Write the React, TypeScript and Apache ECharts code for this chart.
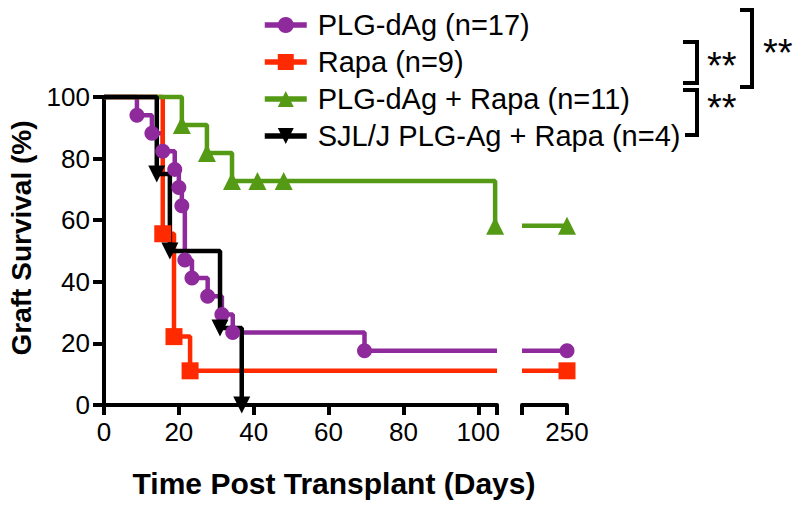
import React, { useEffect, useRef } from "react";
import * as echarts from "echarts";

const seriesNames = [
  "PLG-dAg (n=17)",
  "Rapa (n=9)",
  "PLG-dAg + Rapa (n=11)",
  "SJL/J PLG-Ag + Rapa (n=4)",
];

// Early segment (0–105 days). Mark = 1 where a symbol is drawn.
const purpleDays = [0, 8.8, 12.8, 15.7, 18.9, 20, 20.8, 21.6, 23.5, 27.7, 31.5, 34.4, 69.6, 105];
const purpleSurv = [100, 94.1, 88.2, 82.4, 76.5, 70.6, 64.7, 47.1, 41.2, 35.3, 29.4, 23.5, 17.6, 17.6];
const purpleMark = [0, 1, 1, 1, 1, 1, 1, 1, 1, 1, 1, 1, 1, 0];

const redDays = [0, 15.7, 18.7, 23, 105];
const redSurv = [100, 55.6, 22.2, 11.1, 11.1];
const redMark = [0, 1, 1, 1, 0];

const greenDays = [0, 20.8, 27.5, 34.2, 41, 48, 104.5];
const greenSurv = [100, 90.9, 81.8, 72.7, 72.7, 72.7, 58.2];
const greenMark = [0, 1, 1, 1, 1, 1, 1];

const blackDays = [0, 14.1, 17.6, 31, 36.8];
const blackSurv = [100, 75, 50, 25, 0];
const blackMark = [0, 1, 1, 1, 1];

// Late segment (broken axis, ends at 250 days)
const lateDays = [230, 250];
const purpleLate = [17.6, 17.6];
const redLate = [11.1, 11.1];
const greenLate = [58.2, 58.2];
const lateMark = [0, 1];

const earlyTicks = [0, 20, 40, 60, 80, 100, 105];
const earlyLabels = [0, 20, 40, 60, 80, 100];
const lateTicks = [230, 250];
const lateLabels = [250];

const FONT = "Arial, 'Liberation Sans', Helvetica, sans-serif";
const C_PURPLE = "#8E2A9C";
const C_RED = "#FF2A00";
const C_GREEN = "#559A14";
const C_BLACK = "#000000";

function mk(days: number[], surv: number[], mark: number[]) {
  return days.map((d, i) =>
    mark[i] ? { value: [d, surv[i]] } : { value: [d, surv[i]], symbol: "none" }
  );
}

function lineSeries(
  name: string,
  color: string,
  symbol: string,
  size: number,
  rotate: number,
  data: any[],
  axis: number
) {
  return {
    type: "line",
    name,
    step: "end",
    xAxisIndex: axis,
    yAxisIndex: axis,
    data,
    symbol,
    symbolSize: size,
    symbolRotate: rotate,
    showSymbol: true,
    showAllSymbol: true,
    clip: false,
    lineStyle: { color, width: 4.5 },
    itemStyle: { color, borderWidth: 0 },
    emphasis: { disabled: true },
  };
}

export default function App() {
  const ref = useRef<HTMLDivElement>(null);
  useEffect(() => {
    document.body.style.margin = "0";
    const chart = echarts.init(ref.current!, null, { renderer: "svg" });
    const axisLineStyle = { color: "#000", width: 4 };
    const starStyle = (y: number, x: number) => ({
      type: "text",
      x,
      y,
      style: { text: "**", fontSize: 38, fontFamily: FONT, fill: "#000", textVerticalAlign: "middle" },
    });
    const option: any = {
      animation: false,
      backgroundColor: "#fff",
      textStyle: { fontFamily: FONT },
      legend: {
        data: seriesNames,
        orient: "vertical",
        left: 257,
        top: 5,
        itemWidth: 42,
        itemHeight: 20,
        itemGap: 7,
        selectedMode: false,
        lineStyle: { width: 5.5 },
        textStyle: {
          fontFamily: FONT,
          fontSize: 29,
          color: "#000",
          lineHeight: 30,
          padding: [0, 0, 0, 6],
        },
      },
      grid: [
        { left: 104, top: 97, width: 393, height: 308 },
        { left: 522, top: 97, width: 45, height: 308 },
      ],
      xAxis: [
        {
          type: "value",
          gridIndex: 0,
          min: 0,
          max: 105,
          interval: 20,
          axisLine: { show: true, onZero: false, lineStyle: axisLineStyle },
          axisTick: {
            show: true,
            length: 10,
            lineStyle: axisLineStyle,
            customValues: earlyTicks,
          },
          axisLabel: {
            customValues: earlyLabels,
            fontSize: 26,
            color: "#000",
            margin: 14,
            fontFamily: FONT,
          },
          splitLine: { show: false },
        },
        {
          type: "value",
          gridIndex: 1,
          min: 230,
          max: 250,
          interval: 20,
          axisLine: { show: true, onZero: false, lineStyle: axisLineStyle },
          axisTick: {
            show: true,
            length: 10,
            lineStyle: axisLineStyle,
            customValues: lateTicks,
          },
          axisLabel: {
            customValues: lateLabels,
            fontSize: 26,
            color: "#000",
            margin: 14,
            fontFamily: FONT,
          },
          splitLine: { show: false },
        },
      ],
      yAxis: [
        {
          type: "value",
          gridIndex: 0,
          min: 0,
          max: 100,
          interval: 20,
          axisLine: { show: true, lineStyle: axisLineStyle },
          axisTick: { show: true, length: 11, lineStyle: axisLineStyle },
          axisLabel: { fontSize: 26, color: "#000", margin: 14, fontFamily: FONT },
          splitLine: { show: false },
        },
        {
          type: "value",
          gridIndex: 1,
          min: 0,
          max: 100,
          show: false,
          splitLine: { show: false },
        },
      ],
      series: [
        lineSeries(seriesNames[0], C_PURPLE, "circle", 15, 0, mk(purpleDays, purpleSurv, purpleMark), 0),
        lineSeries(seriesNames[1], C_RED, "rect", 17, 0, mk(redDays, redSurv, redMark), 0),
        lineSeries(seriesNames[2], C_GREEN, "triangle", 18, 0, mk(greenDays, greenSurv, greenMark), 0),
        lineSeries(seriesNames[3], C_BLACK, "triangle", 17, 180, mk(blackDays, blackSurv, blackMark), 0),
        lineSeries(seriesNames[0], C_PURPLE, "circle", 15, 0, mk(lateDays, purpleLate, lateMark), 1),
        lineSeries(seriesNames[1], C_RED, "rect", 17, 0, mk(lateDays, redLate, lateMark), 1),
        lineSeries(seriesNames[2], C_GREEN, "triangle", 18, 0, mk(lateDays, greenLate, lateMark), 1),
      ],
      graphic: [
        {
          type: "text",
          x: 334,
          y: 483,
          style: {
            text: "Time Post Transplant (Days)",
            fontSize: 30,
            fontWeight: "bold",
            fontFamily: FONT,
            fill: "#000",
            textAlign: "center",
            textVerticalAlign: "middle",
          },
        },
        {
          type: "text",
          x: 21,
          y: 238,
          rotation: Math.PI / 2,
          style: {
            text: "Graft Survival (%)",
            fontSize: 28,
            fontWeight: "bold",
            fontFamily: FONT,
            fill: "#000",
            textAlign: "center",
            textVerticalAlign: "middle",
          },
        },
        {
          type: "polyline",
          shape: { points: [[740, 10], [752, 10], [752, 87], [740, 87]] },
          style: { stroke: "#000", lineWidth: 4, fill: "none" },
        },
        {
          type: "polyline",
          shape: { points: [[683, 42], [697, 42], [697, 83], [683, 83]] },
          style: { stroke: "#000", lineWidth: 4, fill: "none" },
        },
        {
          type: "polyline",
          shape: { points: [[683, 90], [697, 90], [697, 135], [685, 135]] },
          style: { stroke: "#000", lineWidth: 4, fill: "none" },
        },
        starStyle(66, 707),
        starStyle(108, 707),
        starStyle(53, 763),
      ],
    };
    chart.setOption(option);
    return () => chart.dispose();
  }, []);
  return <div ref={ref} style={{ width: 800, height: 507 }} />;
}
